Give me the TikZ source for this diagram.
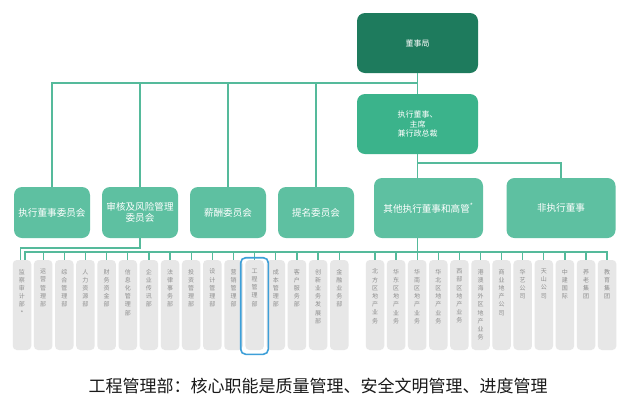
\documentclass[tikz,border=0pt]{standalone}
\usepackage{fontspec}
\setmainfont{Noto Sans CJK SC}
\definecolor{darkg}{HTML}{1E7B5D}
\definecolor{midg}{HTML}{3BB38B}
\definecolor{mintg}{HTML}{5EC0A1}
\definecolor{lng}{HTML}{55BA9B}
\definecolor{deptg}{HTML}{E7E7E7}
\definecolor{dtxt}{HTML}{8E8E8E}
\definecolor{hlb}{HTML}{3D9FD8}
\def\vtxEnd{}
\def\vtxA#1{\ifx#1\vtxEnd\else#1\par\expandafter\vtxA\fi}
\newcommand\vtxt[1]{\vtxA#1\vtxEnd}
\tikzset{
 conn/.style={draw=lng, line width=1.3pt},
 topbox/.style={fill=darkg, rounded corners=8pt, minimum width=121pt, minimum height=60pt, text=white, font=\fontsize{8}{9.5}\selectfont, align=center, inner sep=0pt},
 midbox/.style={topbox, fill=midg},
 cbox/.style={fill=mintg, rounded corners=8pt, minimum width=76pt, minimum height=51pt, text=white, font=\fontsize{9.6}{11}\selectfont, align=center, inner sep=0pt},
 obox/.style={cbox, minimum width=109pt, minimum height=60pt},
 deptbox/.style={fill=deptg, rounded corners=4pt, minimum width=18.5pt, minimum height=90pt, inner sep=0pt},
 depttext/.style={text=dtxt, font=\fontsize{6}{8.2}\selectfont, text width=8pt, align=center, inner sep=0pt, anchor=north},
 hlbox/.style={draw=hlb, line width=1.6pt, rounded corners=5pt, minimum width=27.6pt, minimum height=96.6pt, inner sep=0pt},
 captxt/.style={text=black!90, font=\fontsize{17}{20}\selectfont, inner sep=0pt}
}
\begin{document}
\begin{tikzpicture}[x=1pt, y=-1pt]
\useasboundingbox[fill=white] (0,0) rectangle (640,408);
% top
\node[topbox] (board) at (417.5,43) {董事局};
\node[midbox] (exec) at (417.5,124) {执行董事、\\主席\\兼行政总裁};
% committees
\node[cbox] (c1) at (52,212.5) {执行董事委员会};
\node[cbox] (c2) at (140,212.5) {审核及风险管理\\委员会};
\node[cbox] (c3) at (228,212.5) {薪酬委员会};
\node[cbox] (c4) at (316,212.5) {提名委员会};
\node[obox] (other) at (428.5,208) {其他执行董事和高管\textsuperscript{*}};
\node[obox] (nonexec) at (561,208) {非执行董事};
\coordinate (j1) at (417.5,83);
\coordinate (j2) at (417.5,163);
\coordinate (j3) at (417.5,252);
\coordinate (j4) at (140,248);
% departments
\foreach \t [count=\k] in {监察审计部*,运营管理部,综合管理部,人力资源部,财务资金部,信息化管理部,企业传讯部,法律事务部,投资管理部,设计管理部,营销管理部,工程管理部,成本管理部,客户服务部,创新业务发展部,金融业务部,北方区地产业务,华东区地产业务,华南区地产业务,华北区地产业务,西部区地产业务,港澳海外区地产业务,商业地产公司,华艺公司,天山公司,中建国际,养老集团,教育集团}{
  \pgfmathsetmacro\xx{\k<17 ? 22+(\k-1)*21.15 : 375+(\k-17)*21.1}
  \node[deptbox] (d\k) at (\xx,305) {};
  \node[depttext] (t\k) at ([yshift=-9pt]d\k.north) {\expandafter\vtxt\expandafter{\t}};
}
% connectors
\draw[conn] (board.south) -- (exec.north);
\foreach \c in {c1,c2,c3,c4}{\draw[conn] (\c.north) |- (j1);}
\draw[conn] (exec.south) -- (exec.south |- other.north);
\draw[conn] (nonexec.north) |- (j2);
\draw[conn] (exec.south |- other.south) -- (j3);
\draw[conn] ([xshift=3pt]d1.north) |- (j3);
\foreach \k in {2,...,28}{\draw[conn] (d\k.north) |- (j3);}
\draw[conn] (c2.south) -- (j4) -| ([xshift=-1.5pt]d1.north);
% highlight
\node[hlbox] (hl) at (254.5,306) {};
% caption
\node[captxt] (cap) at (318,386) {工程管理部：核心职能是质量管理、安全文明管理、进度管理};
\end{tikzpicture}
\end{document}
